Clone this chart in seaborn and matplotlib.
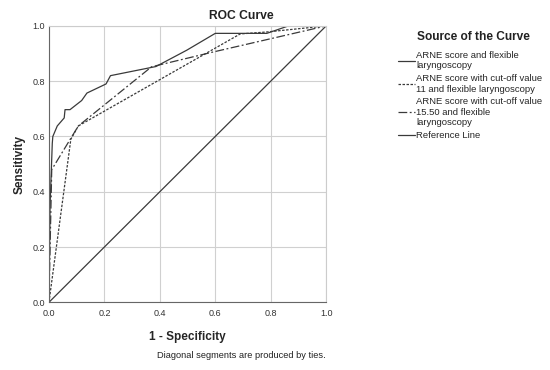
import numpy as np
import pandas as pd
import seaborn as sns
import matplotlib.pyplot as plt

# ROC curve values
fpr_full = [0.0, 0.004, 0.012, 0.014, 0.03, 0.055, 0.058, 0.076, 0.118, 0.137,
            0.206, 0.222, 0.386, 0.497, 0.6, 0.786, 0.864, 1.0]
tpr_full = [0.0, 0.35, 0.575, 0.60, 0.638, 0.667, 0.697, 0.697, 0.73, 0.757,
            0.79, 0.82, 0.853, 0.912, 0.973, 0.973, 1.0, 1.0]

fpr_cut11 = [0.0, 0.079, 0.106, 0.69, 0.786, 1.0]
tpr_cut11 = [0.0, 0.59, 0.638, 0.971, 0.978, 1.0]

fpr_cut155 = [0.0, 0.01, 0.106, 0.37, 0.59, 1.0]
tpr_cut155 = [0.0, 0.48, 0.638, 0.852, 0.905, 1.0]

fpr_ref = [0.0, 1.0]
tpr_ref = [0.0, 1.0]

labels = ['ARNE score and flexible\nlaryngoscopy',
          'ARNE score with cut-off value\n11 and flexible laryngoscopy',
          'ARNE score with cut-off value\n15.50 and flexible\nlaryngoscopy',
          'Reference Line']
ticks = [0.0, 0.2, 0.4, 0.6, 0.8, 1.0]

sns.set_theme(style='white')
plt.rcParams['font.family'] = ['Liberation Sans', 'DejaVu Sans']

fig = plt.figure(figsize=(5.5, 3.7), dpi=100)
ax = fig.add_axes([0.089, 0.183, 0.504, 0.747])

curves = [(fpr_full, tpr_full, '-'),
          (fpr_cut11, tpr_cut11, (0, (2, 1.2))),
          (fpr_cut155, tpr_cut155, (0, (7, 2, 1.5, 2))),
          (fpr_ref, tpr_ref, '-')]
handles = []
for (x, y, ls), lab in zip(curves, labels):
    df = pd.DataFrame({'x': x, 'y': y})
    sns.lineplot(data=df, x='x', y='y', ax=ax, sort=False, estimator=None,
                 color='#3a3a3a', linewidth=0.9, linestyle=ls)
    handles.append(ax.lines[-1])

ax.set_xlim(0, 1)
ax.set_ylim(0, 1)
ax.set_xticks(ticks)
ax.set_yticks(ticks)
ax.set_xticklabels([f'{t:.1f}' for t in ticks])
ax.set_yticklabels([f'{t:.1f}' for t in ticks])
ax.tick_params(labelsize=6.5, colors='#333333', length=0)
ax.tick_params(axis='x', pad=5)
ax.tick_params(axis='y', pad=3)
ax.grid(True, color='#d0d0d0', linewidth=0.8)
ax.set_axisbelow(True)
for s in ['top', 'right']:
    ax.spines[s].set_color('#cccccc')
    ax.spines[s].set_linewidth(0.8)
for s in ['left', 'bottom']:
    ax.spines[s].set_color('#666666')
    ax.spines[s].set_linewidth(0.8)

# SPSS puts the title off-centre, to the right of the plot middle
fig.text(241 / 550, 1 - 16 / 370, 'ROC Curve', ha='center', va='center',
         fontsize=8.7, fontweight='bold', color='#222222')
ax.set_xlabel('1 - Specificity', fontsize=8.5, fontweight='bold', labelpad=9)
ax.set_ylabel('Sensitivity', fontsize=8.5, fontweight='bold', labelpad=5)

# legend title sits over the text column, not over the handles
fig.text(417 / 550, 1 - 37 / 370, 'Source of the Curve', ha='left', va='center',
         fontsize=8.6, fontweight='bold', color='#222222')
leg = fig.legend(handles, labels, loc='upper left', bbox_to_anchor=(398 / 550, 1 - 51 / 370),
                 frameon=False, fontsize=6.8,
                 handlelength=1.75, handletextpad=0.15, labelspacing=0.4,
                 borderpad=0, borderaxespad=0)

fig.text(0.593, 0.038, 'Diagonal segments are produced by ties.', ha='right',
         va='center', fontsize=6.7, color='#222222')

fig.savefig('out.png', dpi=100)
